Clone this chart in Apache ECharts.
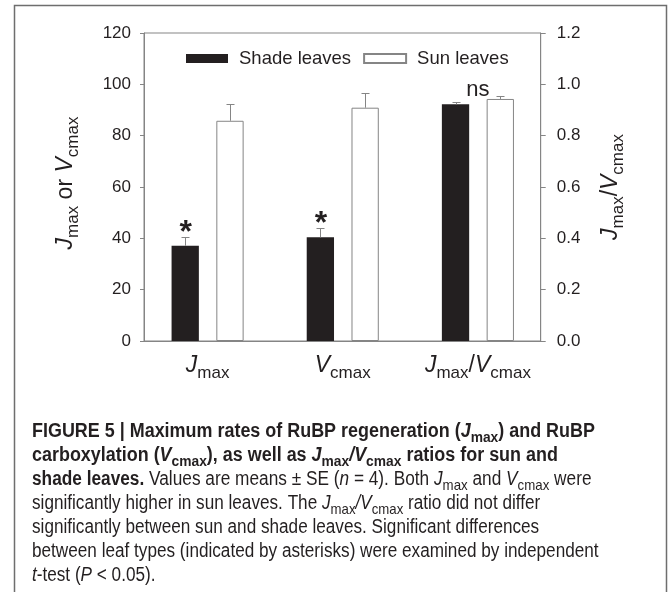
<!DOCTYPE html>
<html><head><meta charset="utf-8">
<script src="https://cdn.jsdelivr.net/npm/echarts@6/dist/echarts.min.js"></script>
<style>html,body{margin:0;padding:0;background:#fff}#c{width:669px;height:592px}</style>
</head><body><div id="c"></div>
<script>
// ---------- data ----------
const categories = ['Jmax', 'Vcmax', 'Jmax/Vcmax'];
const categoryPos = [1, 2, 3];
const seriesNames = ['Shade leaves', 'Sun leaves'];
// left axis (Jmax, Vcmax)
const shadeValues = [37.1, 40.4];
const shadeErrors = [3.3, 3.5];
const sunValues = [85.8, 90.9];
const sunErrors = [6.4, 5.6];
// right axis (Jmax/Vcmax ratio)
const shadeRatio = [0.922];
const shadeRatioErr = [0.010];
const sunRatio = [0.943];
const sunRatioErr = [0.010];
const sigLabels = ['*', '*', 'ns'];
const leftTicks = {min: 0, max: 120, interval: 20};
const rightTicks = {min: 0, max: 1.2, interval: 0.2};

// ---------- styling ----------
const FONT = "'Liberation Sans', Arial, sans-serif";
const CAPFONT = "'Liberation Sans', Arial, sans-serif";
const INK = '#231f20';
const GRAY = '#858585';
const BAR_W = 27.3;
const BAR_GAP = '64%';
const HALF = (BAR_W + BAR_W * 0.64) / 2;

const leftCats = categoryPos.slice(0, 2);
const ratioCat = categoryPos.slice(2);

function pairs(xs, ys) { return xs.map((x, i) => [x, ys[i]]); }
function triples(xs, ys, es) { return xs.map((x, i) => [x, ys[i], es[i]]); }

function errRender(offset) {
  return function (params, api) {
    const x = api.value(0), v = api.value(1), e = api.value(2);
    const p0 = api.coord([x, v]);
    const p1 = api.coord([x, v + e]);
    const cx = Math.round(p0[0] + offset) + 0.5;
    const ty = Math.round(p1[1]) + 0.5;
    return {
      type: 'group', children: [
        {type: 'line', shape: {x1: cx, y1: p0[1], x2: cx, y2: ty}, style: {stroke: GRAY, lineWidth: 1}},
        {type: 'line', shape: {x1: cx - 4, y1: ty, x2: cx + 4, y2: ty}, style: {stroke: GRAY, lineWidth: 1}}
      ]
    };
  };
}

const sigOffsets = [-HALF, -HALF, 0];
function sigRender(params, api) {
  const idx = api.value(2);
  const p = api.coord([api.value(0), api.value(1)]);
  const label = sigLabels[idx];
  const isStar = label === '*';
  return {
    type: 'text',
    x: p[0] + sigOffsets[idx] + (isStar ? 0.5 : 0),
    y: p[1] - (isStar ? 4 : 6),
    style: {
      text: label, fill: INK, font: (isStar ? 'bold 32px ' : '22px ') + FONT,
      align: 'center', verticalAlign: 'middle'
    }
  };
}

const sigLeftData = leftCats.map((x, i) => [x, shadeValues[i] + shadeErrors[i], i]);
const sigRightData = ratioCat.map((x, i) => [x, Math.max(shadeRatio[i] + shadeRatioErr[i], sunRatio[i] + sunRatioErr[i]), 2 + i]);

const xMin = 0.5294, xMax = 3.4646;
const subRich = {
  j: {fontFamily: FONT, fontStyle: 'italic', fontSize: 23, color: INK, verticalAlign: 'top'},
  s: {fontFamily: FONT, fontSize: 17, color: INK, verticalAlign: 'top', padding: [11, 0, 0, 0]},
  t: {fontFamily: FONT, fontSize: 23, color: INK, verticalAlign: 'top'}
};
const xLabelRich = ['{j|J}{s|max}', '{j|V}{s|cmax}', '{j|J}{s|max}{t|/}{j|V}{s|cmax}'];

const capMain = 19.5, capSub = 15;
const capRich = {
  b: {fontFamily: CAPFONT, fontWeight: 'bold', fontSize: capMain, color: INK, verticalAlign: 'top'},
  bi: {fontFamily: CAPFONT, fontWeight: 'bold', fontStyle: 'italic', fontSize: capMain, color: INK, verticalAlign: 'top'},
  bs: {fontFamily: CAPFONT, fontWeight: 'bold', fontSize: capSub, color: INK, verticalAlign: 'top', padding: [8, 0, 0, 0]},
  r: {fontFamily: CAPFONT, fontSize: capMain, color: INK, verticalAlign: 'top'},
  i: {fontFamily: CAPFONT, fontStyle: 'italic', fontSize: capMain, color: INK, verticalAlign: 'top'},
  s: {fontFamily: CAPFONT, fontSize: capSub, color: INK, verticalAlign: 'top', padding: [8, 0, 0, 0]}
};
const captionLines = [
  '{b|FIGURE 5 | Maximum rates of RuBP regeneration (}{bi|J}{bs|max}{b|) and RuBP}',
  '{b|carboxylation (}{bi|V}{bs|cmax}{b|), as well as }{bi|J}{bs|max}{bi|/V}{bs|cmax}{b| ratios for sun and}',
  '{b|shade leaves.}{r| Values are means ± SE (}{i|n}{r| = 4). Both }{i|J}{s|max}{r| and }{i|V}{s|cmax}{r| were}',
  '{r|significantly higher in sun leaves. The }{i|J}{s|max}{i|/V}{s|cmax}{r| ratio did not differ}',
  '{r|significantly between sun and shade leaves. Significant differences}',
  '{r|between leaf types (indicated by asterisks) were examined by independent}',
  '{i|t}{r|-test (}{i|P}{r| < 0.05).}'
];
const captionScale = [0.92, 0.92, 0.885, 0.88, 0.88, 0.88, 0.88];
const capTop = 422, capStep = 24;

const chart = echarts.init(document.getElementById('c'), null, {renderer: 'canvas'});
chart.setOption({
  animation: false,
  backgroundColor: '#fff',
  textStyle: {fontFamily: FONT, color: INK},
  grid: {left: 144, right: 128.3, top: 33, bottom: 251, show: true, borderColor: GRAY, borderWidth: 1, backgroundColor: 'transparent'},
  legend: {
    data: seriesNames, left: 181, top: 44, itemWidth: 42, itemHeight: 9, itemGap: 12, icon: 'rect',
    selectedMode: false,
    textStyle: {fontSize: 18.5, color: INK, fontFamily: FONT, padding: [0, 0, 0, 6]}
  },
  xAxis: [
    {
      type: 'value', min: xMin, max: xMax, splitLine: {show: false},
      axisLine: {lineStyle: {color: GRAY}}, axisTick: {show: false},
      axisLabel: {
        customValues: categoryPos, margin: 13,
        formatter: v => xLabelRich[categoryPos.indexOf(v)] || '',
        rich: subRich
      }
    },
    {type: 'value', min: xMin, max: xMax, show: false, splitLine: {show: false}}
  ],
  yAxis: [
    {
      type: 'value', min: leftTicks.min, max: leftTicks.max, interval: leftTicks.interval,
      splitLine: {show: false},
      axisLine: {show: true, lineStyle: {color: GRAY}},
      axisTick: {show: true, length: 4, lineStyle: {color: GRAY}},
      axisLabel: {fontSize: 17, color: INK, margin: 13, fontFamily: FONT},
      name: '{j|J}{s|max}{t| or }{j|V}{s|cmax}', nameLocation: 'middle', nameGap: 62,
      nameTextStyle: {rich: subRich, padding: [0, 0, 0, 8]}
    },
    {
      type: 'value', min: rightTicks.min, max: rightTicks.max, interval: rightTicks.interval,
      position: 'right', splitLine: {show: false},
      axisLine: {show: true, lineStyle: {color: GRAY}},
      axisTick: {show: true, length: 5, lineStyle: {color: GRAY}},
      axisLabel: {fontSize: 17, color: INK, margin: 16, fontFamily: FONT, formatter: v => v.toFixed(1)},
      name: '{j|J}{s|max}{t|/}{j|V}{s|cmax}', nameLocation: 'middle', nameGap: 58,
      nameTextStyle: {rich: subRich}
    }
  ],
  series: [
    {name: seriesNames[0], type: 'bar', xAxisIndex: 0, yAxisIndex: 0, barWidth: BAR_W, barGap: BAR_GAP,
      data: pairs(leftCats, shadeValues), itemStyle: {color: INK, borderColor: INK, borderWidth: 0}},
    {name: seriesNames[1], type: 'bar', xAxisIndex: 0, yAxisIndex: 0, barWidth: BAR_W, barGap: BAR_GAP,
      data: pairs(leftCats, sunValues), itemStyle: {color: '#fff', borderColor: GRAY, borderWidth: 1}},
    {name: seriesNames[0], type: 'bar', xAxisIndex: 1, yAxisIndex: 1, barWidth: BAR_W, barGap: BAR_GAP,
      data: pairs(ratioCat, shadeRatio), itemStyle: {color: INK, borderColor: INK, borderWidth: 0}},
    {name: seriesNames[1], type: 'bar', xAxisIndex: 1, yAxisIndex: 1, barWidth: BAR_W, barGap: BAR_GAP,
      data: pairs(ratioCat, sunRatio), itemStyle: {color: '#fff', borderColor: GRAY, borderWidth: 1}},
    {type: 'custom', xAxisIndex: 0, yAxisIndex: 0, z: 5, renderItem: errRender(-HALF), data: triples(leftCats, shadeValues, shadeErrors)},
    {type: 'custom', xAxisIndex: 0, yAxisIndex: 0, z: 5, renderItem: errRender(HALF), data: triples(leftCats, sunValues, sunErrors)},
    {type: 'custom', xAxisIndex: 1, yAxisIndex: 1, z: 5, renderItem: errRender(-HALF), data: triples(ratioCat, shadeRatio, shadeRatioErr)},
    {type: 'custom', xAxisIndex: 1, yAxisIndex: 1, z: 5, renderItem: errRender(HALF), data: triples(ratioCat, sunRatio, sunRatioErr)},
    {type: 'custom', xAxisIndex: 0, yAxisIndex: 0, z: 6, renderItem: sigRender, data: sigLeftData},
    {type: 'custom', xAxisIndex: 1, yAxisIndex: 1, z: 6, renderItem: sigRender, data: sigRightData}
  ],
  graphic: [
    {type: 'rect', z: -1, shape: {x: 14.5, y: 5.5, width: 652, height: 620},
      style: {fill: 'transparent', stroke: '#6e6e6e', lineWidth: 1.5}}
  ].concat(captionLines.map((t, i) => ({
    type: 'text', x: 32, y: capTop + i * capStep, scaleX: captionScale[i],
    style: {text: t, rich: capRich, font: capMain + 'px ' + CAPFONT, fill: INK}
  })))
});
</script>
</body></html>
